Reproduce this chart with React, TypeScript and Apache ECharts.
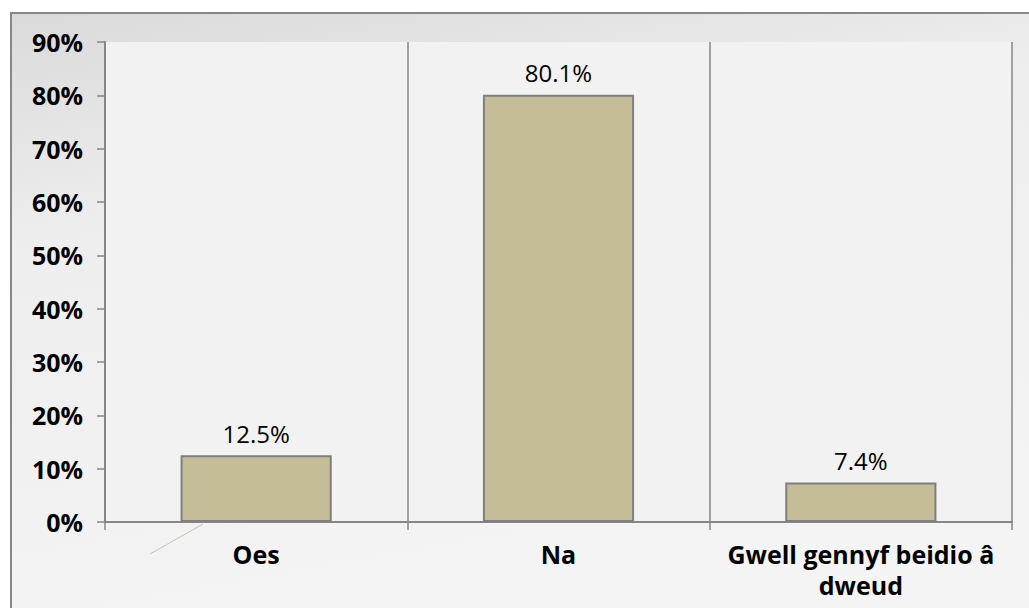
import React, { useEffect, useRef } from "react";
import * as echarts from "echarts";

const categories = ["Oes", "Na", "Gwell gennyf beidio â\ndweud"];
const values = [12.5, 80.1, 7.4];
const yTicks = [0, 10, 20, 30, 40, 50, 60, 70, 80, 90];

export default function App() {
  const ref = useRef<HTMLDivElement>(null);
  useEffect(() => {
    const chart = echarts.init(ref.current!, null, { renderer: "svg" });
    chart.setOption({
      animation: false,
      graphic: [
        {
          type: "rect",
          z: -10,
          silent: true,
          shape: { x: 11, y: 13, width: 1040, height: 620 },
          style: {
            fill: new echarts.graphic.LinearGradient(0, 0, 0.3, 1, [
              { offset: 0, color: "#dadada" },
              { offset: 0.35, color: "#eeeeee" },
              { offset: 1, color: "#f4f4f4" },
            ]),
            stroke: "#878787",
            lineWidth: 2,
          },
        },
        {
          type: "line",
          silent: true,
          shape: { x1: 150, y1: 554, x2: 203, y2: 524 },
          style: { stroke: "#c8c4ae", lineWidth: 1 },
        },
      ],
      grid: {
        left: 105,
        right: 17,
        top: 42,
        bottom: 86,
        show: true,
        backgroundColor: "#f2f2f2",
        borderWidth: 0,
      },
      xAxis: {
        type: "category",
        data: categories,
        axisLine: { show: true, lineStyle: { color: "#868686", width: 2 } },
        axisTick: { show: true, length: 8, lineStyle: { color: "#868686", width: 1.5 } },
        splitLine: { show: true, lineStyle: { color: "#868686", width: 1.5 } },
        axisLabel: {
          color: "#000",
          fontFamily: "Open Sans",
          fontWeight: "bold",
          fontSize: 25,
          lineHeight: 31,
          margin: 16,
          interval: 0,
        },
      },
      yAxis: {
        type: "value",
        min: 0,
        max: 90,
        interval: 10,
        axisLine: { show: true, lineStyle: { color: "#868686", width: 2 } },
        axisTick: { show: true, length: 8, lineStyle: { color: "#868686", width: 1.5 } },
        splitLine: { show: false },
        axisLabel: {
          color: "#000",
          fontFamily: "Open Sans",
          fontWeight: "bold",
          fontSize: 25,
          margin: 22,
          formatter: (v: number) => (yTicks.includes(v) ? v + "%" : ""),
        },
      },
      series: [
        {
          type: "bar",
          data: values,
          barWidth: "50%",
          itemStyle: {
            color: "#c4bd97",
            borderColor: "#7f7f7f",
            borderWidth: 2,
          },
          label: {
            show: true,
            position: "top",
            distance: 10,
            color: "#000",
            fontFamily: "Open Sans",
            fontSize: 24,
            formatter: (p: any) => p.value.toFixed(1) + "%",
          },
        },
      ],
    });
    return () => chart.dispose();
  }, []);
  return (
    <div
      ref={ref}
      style={{ position: "absolute", left: 0, top: 0, width: 1029, height: 608 }}
    />
  );
}
